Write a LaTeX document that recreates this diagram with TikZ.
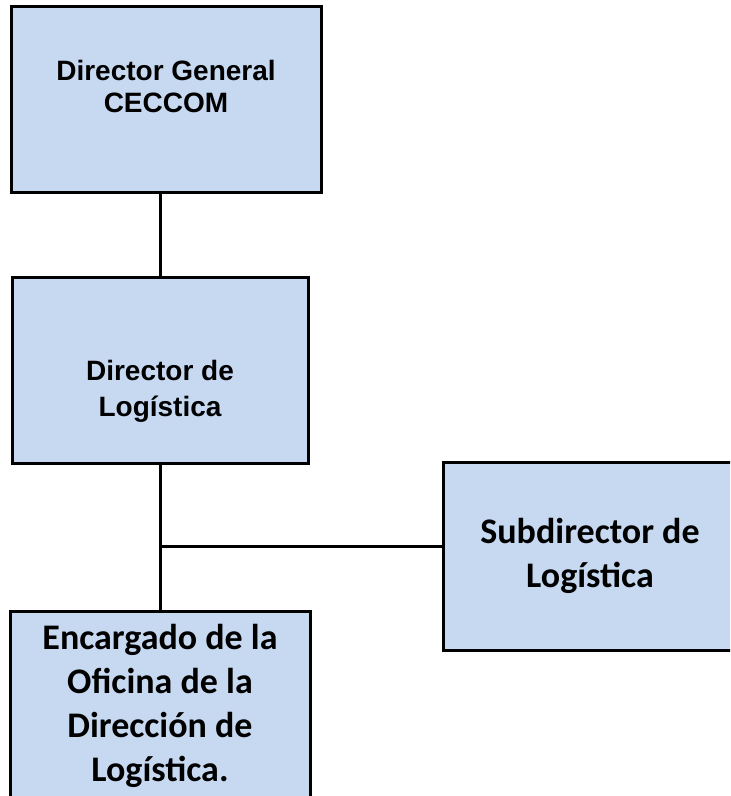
\documentclass[tikz,border=0pt]{standalone}
\usepackage{fontspec}
\newfontfamily\arialfont{Liberation Sans}
\newfontfamily\calibrifont{Carlito}
\usetikzlibrary{positioning}
\definecolor{boxblue}{RGB}{198,217,241}
\tikzset{
    orgbox/.style={rectangle, draw=black, line width=1.5pt, fill=boxblue, inner sep=0pt},
    headtext/.style={font=\arialfont\bfseries\fontsize{14}{16}\selectfont, align=center},
    bodytext/.style={font=\calibrifont\bfseries\fontsize{18}{22}\selectfont, align=center},
    connector/.style={draw=black, line width=1.5pt}
}
\begin{document}
\begin{tikzpicture}[x=0.5pt,y=-0.5pt]
    \useasboundingbox (0,0) rectangle (730,796);
    \clip (0,0) rectangle (730,796);
    % boxes
    \node[orgbox, minimum width=155pt, minimum height=93pt] (general) at (166,100) {};
    \node[headtext] (generaltext) at (166,86) {Director General\\CECCOM};
    \node[orgbox, minimum width=148pt, minimum height=92.5pt] (logistica) at (160,370.5) {};
    \node[headtext, font=\arialfont\bfseries\fontsize{14}{18}\selectfont] (logisticatext) at (160,391) {Director de\\Logística};
    \node[orgbox, bodytext, minimum width=150pt, minimum height=95pt] (oficina) at (160,706) {Encargado de la\\Oficina de la\\Dirección de\\Logística.};
    \node[orgbox, bodytext, minimum width=147pt, minimum height=94pt] (subdirector) at (590,556) {Subdirector de\\Logística};
    % lines
    \coordinate (junction) at (160,546);
    \draw[connector] (logistica.north) -- (logistica.north |- general.south);
    \draw[connector] (logistica.south) -- (oficina.north);
    \draw[connector] (junction) -- (junction -| subdirector.west);
\end{tikzpicture}
\end{document}
